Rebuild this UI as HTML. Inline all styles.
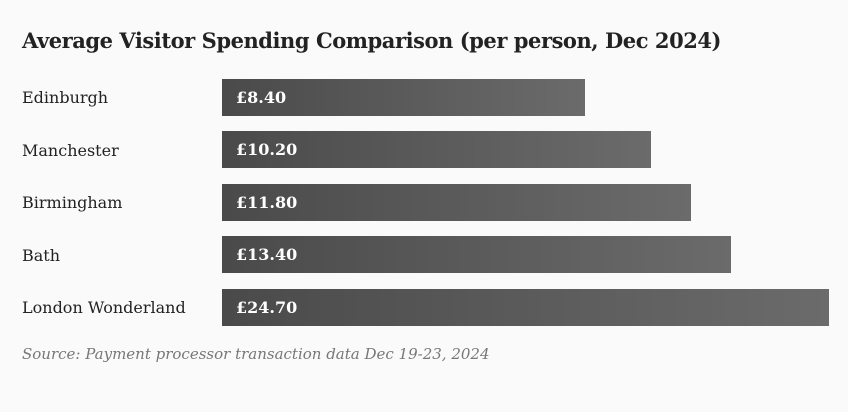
<!DOCTYPE html>
<html><head><meta charset="utf-8"><style>
body{margin:0;background:#fafafa;width:848px;height:412px;overflow:hidden;font-family:"DejaVu Serif","Liberation Serif",serif;color:#222}
.t{position:absolute;left:22px;top:28px;font-size:21px;font-weight:bold;white-space:nowrap;letter-spacing:-0.45px}
.l{position:absolute;left:22px;font-size:16px;white-space:nowrap}
.b{position:absolute;left:222px;height:37px;background:linear-gradient(90deg,#4a4a4a,#6b6b6b);color:#fff;font-weight:bold;font-size:16px;line-height:37px;padding-left:14px;box-sizing:border-box}
.s{position:absolute;left:22px;top:345px;font-style:italic;color:#777;font-size:15px;white-space:nowrap}
</style></head><body>
<div class="t">Average Visitor Spending Comparison (per person, Dec 2024)</div>
<div class="l" style="top:88px">Edinburgh</div><div class="b" style="top:79px;width:363px">£8.40</div>
<div class="l" style="top:141px">Manchester</div><div class="b" style="top:131px;width:429px">£10.20</div>
<div class="l" style="top:193px">Birmingham</div><div class="b" style="top:184px;width:469px">£11.80</div>
<div class="l" style="top:246px">Bath</div><div class="b" style="top:236px;width:509px">£13.40</div>
<div class="l" style="top:298px">London Wonderland</div><div class="b" style="top:289px;width:607px">£24.70</div>
<div class="s">Source: Payment processor transaction data Dec 19-23, 2024</div>
</body></html>
